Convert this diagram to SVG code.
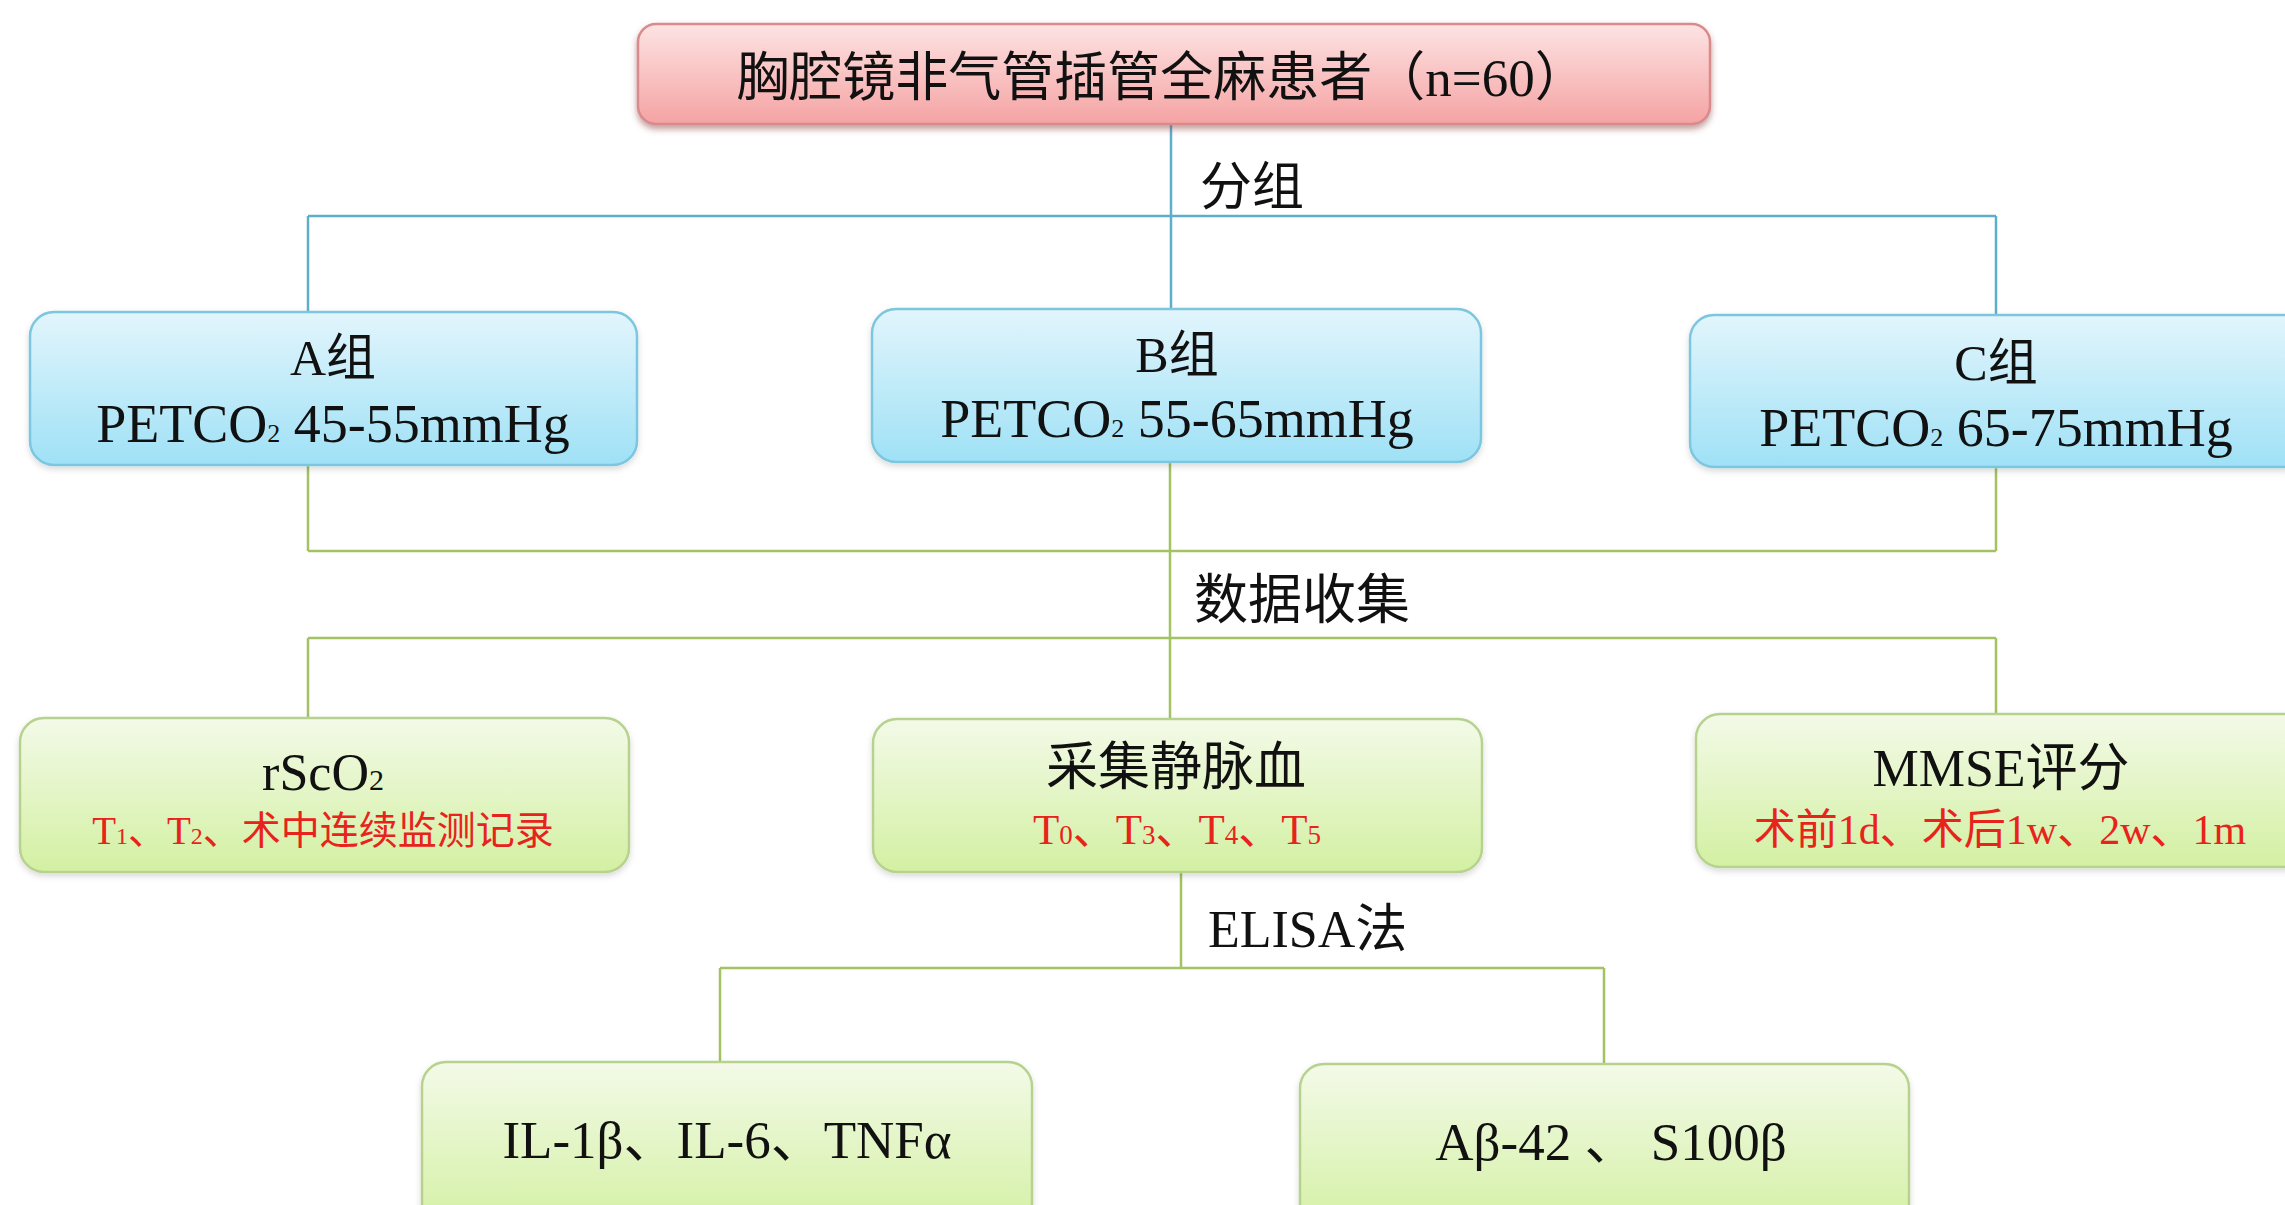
<svg xmlns="http://www.w3.org/2000/svg" width="2285" height="1205" viewBox="0 0 2285 1205">
<defs>
<linearGradient id="gPink" x1="0" y1="0" x2="0" y2="1">
<stop offset="0" stop-color="#fde3e3"/>
<stop offset="1" stop-color="#f5a3a3"/>
</linearGradient>
<linearGradient id="gBlue" x1="0" y1="0" x2="0" y2="1">
<stop offset="0" stop-color="#e2f5fc"/>
<stop offset="1" stop-color="#9fe1f6"/>
</linearGradient>
<linearGradient id="gGreen" x1="0" y1="0" x2="0" y2="1">
<stop offset="0" stop-color="#f3fae8"/>
<stop offset="1" stop-color="#d3f0a2"/>
</linearGradient>
<filter id="shPink" x="-5%" y="-20%" width="110%" height="150%">
<feDropShadow dx="0" dy="4" stdDeviation="3" flood-color="#8a3b3b" flood-opacity="0.5"/>
</filter>
<filter id="shSoft" x="-5%" y="-20%" width="110%" height="150%">
<feDropShadow dx="0" dy="3" stdDeviation="3" flood-color="#000" flood-opacity="0.15"/>
</filter>
</defs>
<style>
.pink{fill:url(#gPink);stroke:#d98a8a;stroke-width:2.5;filter:url(#shPink)}
.blue{fill:url(#gBlue);stroke:#7cc6df;stroke-width:2.5;filter:url(#shSoft)}
.green{fill:url(#gGreen);stroke:#b7d28e;stroke-width:2.5;filter:url(#shSoft)}
.t{font-family:"Liberation Serif","Noto Sans CJK SC",serif;fill:#111;text-anchor:middle}
.cjk{font-family:"Noto Sans CJK SC",sans-serif;fill:#111}
.red{fill:#e8231b}
.bl{stroke:#5eaecb;stroke-width:2.5;fill:none}
.gl{stroke:#a3c263;stroke-width:2.5;fill:none}
</style>
<rect width="2285" height="1205" fill="#ffffff"/>

<g id="connectors">
<path class="bl" d="M1171 124 V309 M308 216 H1996 M308 216 V312 M1996 216 V315"/>
<path class="gl" d="M308 465 V551 M1996 467 V551 M1170 462 V719 M308 551 H1996 M308 638 H1996 M308 638 V718 M1996 638 V714"/>
<path class="gl" d="M1181 872 V968 M720 968 H1604 M720 968 V1062 M1604 968 V1064"/>
</g>

<g id="labels">
<text class="cjk" x="1200" y="205" font-size="52">分组</text>
<text class="cjk" x="1194" y="619" font-size="54">数据收集</text>
<text class="t" x="1208" y="947" font-size="52" style="text-anchor:start">ELISA法</text>
</g>

<g id="node-top">
<rect class="pink" x="638" y="24" width="1072" height="100" rx="18"/>
<text class="t" x="1162" y="96" font-size="53"><tspan font-family="Noto Sans CJK SC, sans-serif">胸腔镜非气管插管全麻患者（</tspan>n=60<tspan font-family="Noto Sans CJK SC, sans-serif">）</tspan></text>
</g>

<g id="node-A">
<rect class="blue" x="30" y="312" width="607" height="153" rx="24"/>
<text class="t" x="333" y="375" font-size="50">A组</text>
<text class="t" x="333" y="442" font-size="54">PETCO<tspan font-size="26">2</tspan> 45-55mmHg</text>
</g>

<g id="node-B">
<rect class="blue" x="872" y="309" width="609" height="153" rx="24"/>
<text class="t" x="1177" y="372" font-size="50">B组</text>
<text class="t" x="1177" y="437" font-size="54">PETCO<tspan font-size="26">2</tspan> 55-65mmHg</text>
</g>

<g id="node-C">
<rect class="blue" x="1690" y="315" width="620" height="152" rx="24"/>
<text class="t" x="1996" y="380" font-size="50">C组</text>
<text class="t" x="1996" y="446" font-size="54">PETCO<tspan font-size="26">2</tspan> 65-75mmHg</text>
</g>

<g id="node-rScO2">
<rect class="green" x="20" y="718" width="609" height="154" rx="24"/>
<text class="t" x="323" y="790" font-size="52">rScO<tspan font-size="30">2</tspan></text>
<text class="t red" x="323" y="844" font-size="39">T<tspan font-size="24">1</tspan>、T<tspan font-size="24">2</tspan>、<tspan font-family="Noto Sans CJK SC, sans-serif">术中连续监测记录</tspan></text>
</g>

<g id="node-blood">
<rect class="green" x="873" y="719" width="609" height="153" rx="24"/>
<text class="t" x="1176" y="785" font-size="52"><tspan font-family="Noto Sans CJK SC, sans-serif">采集静脉血</tspan></text>
<text class="t red" x="1177" y="844" font-size="43">T<tspan font-size="27">0</tspan>、T<tspan font-size="27">3</tspan>、T<tspan font-size="27">4</tspan>、T<tspan font-size="27">5</tspan></text>
</g>

<g id="node-MMSE">
<rect class="green" x="1696" y="714" width="620" height="153" rx="24"/>
<text class="t" x="2001" y="786" font-size="52">MMSE<tspan font-family="Noto Sans CJK SC, sans-serif">评分</tspan></text>
<text class="t red" x="2000" y="844" font-size="42"><tspan font-family="Noto Sans CJK SC, sans-serif">术前</tspan>1d、<tspan font-family="Noto Sans CJK SC, sans-serif">术后</tspan>1w、2w、1m</text>
</g>

<g id="node-IL">
<rect class="green" x="422" y="1062" width="610" height="170" rx="24"/>
<text class="t" x="727" y="1158" font-size="53">IL-1β、IL-6、TNFα</text>
</g>

<g id="node-Abeta">
<rect class="green" x="1300" y="1064" width="609" height="170" rx="24"/>
<text class="t" x="1611" y="1160" font-size="53">Aβ-42 、 S100β</text>
</g>
</svg>
